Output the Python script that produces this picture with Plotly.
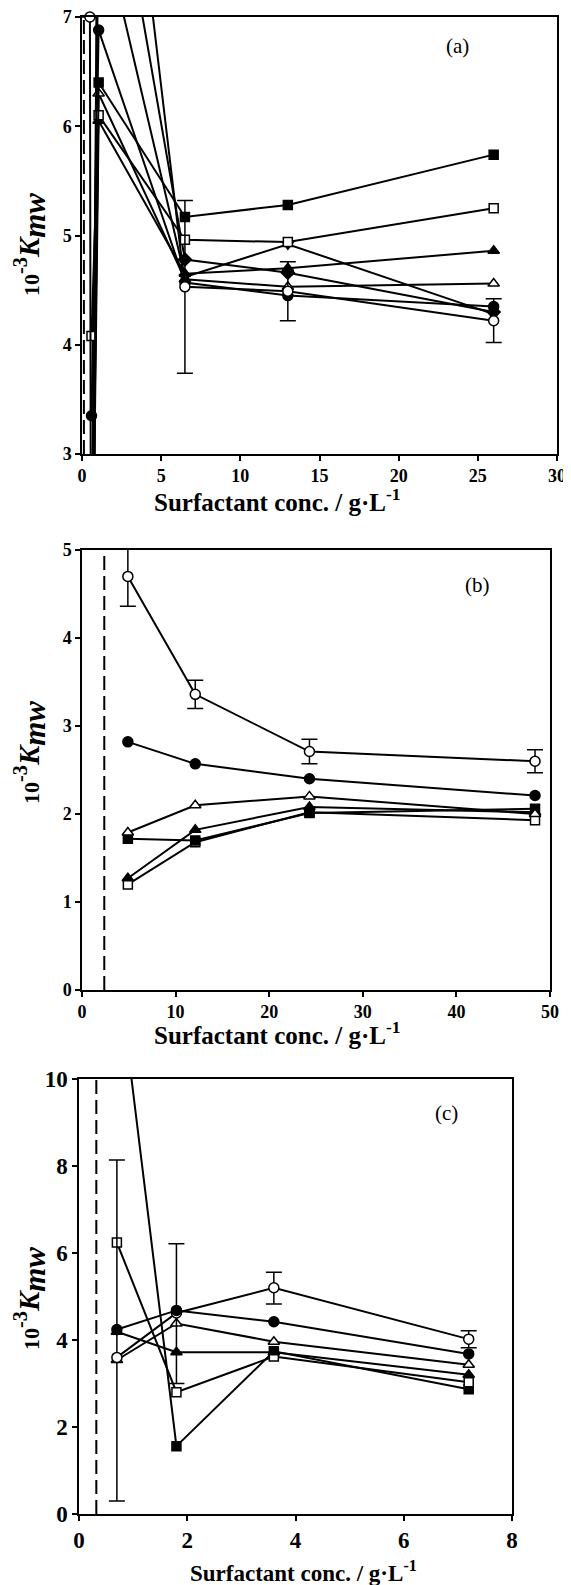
import plotly.graph_objects as go

# page body has an 8px default margin, so the figure is shifted by OFF
OFF = 8
W, H = 571 - OFF, 1585 - OFF

# ---------------- data ----------------
# panel (a)
a_x = [0.6, 1.05, 6.5, 13, 26]
a_x_open_circle = [0.5, 0.62, 1.05, 6.5, 13, 26]
a_filled_square = [1.0, 6.4, 5.17, 5.28, 5.74]
a_open_square = [4.08, 6.1, 4.96, 4.94, 5.25]
a_filled_circle = [3.35, 6.88, 4.57, 4.45, 4.35]
a_open_triangle = [1.5, 6.3, 4.60, 4.53, 4.56]
a_filled_triangle = [0.8, 6.05, 4.65, 4.70, 4.86]
a_filled_tridown = [2.0, 7.99, 4.62, 4.92, 4.28]
a_filled_diamond = [1.2, 9.3, 4.78, 4.66, 4.30]
a_open_circle = [7.0, -3.0, 11.2, 4.53, 4.49, 4.22]
a_open_circle_err = [None, None, None, 0.79, 0.27, 0.20]
a_cmc = 0.12

# panel (b)
b_x = [4.9, 12.1, 24.3, 48.4]
b_open_circle = [4.70, 3.36, 2.71, 2.60]
b_open_circle_err = [0.34, 0.16, 0.14, 0.13]
b_filled_circle = [2.82, 2.57, 2.40, 2.21]
b_open_triangle = [1.79, 2.10, 2.20, 2.00]
b_filled_square = [1.72, 1.70, 2.01, 2.06]
b_filled_triangle = [1.27, 1.82, 2.08, 2.02]
b_open_square = [1.20, 1.68, 2.02, 1.93]
b_cmc = 2.38

# panel (c)
c_x = [0.7, 1.8, 3.6, 7.2]
c_open_circle = [3.60, 4.62, 5.20, 4.02]
c_open_circle_err_plus = [4.54, 1.59, 0.36, 0.19]
c_open_circle_err_minus = [3.30, 1.62, 0.37, 0.20]
c_filled_circle = [4.24, 4.68, 4.42, 3.68]
c_open_triangle = [3.54, 4.38, 3.96, 3.43]
c_filled_triangle = [4.19, 3.72, 3.72, 3.20]
c_open_square = [6.24, 2.80, 3.62, 3.03]
c_filled_square = [12.75, 1.56, 3.74, 2.87]
c_cmc = 0.32

panel_labels = ["(a)", "(b)", "(c)"]
x_title = "Surfactant conc. / g·L<sup>-1</sup>"
y_title = ("<span style='font-size:22px'>10</span><sup>-3</sup>"
           "<i>K<sub><span style='font-size:31px'>mw</span></sub></i>")

# ---------------- styles ----------------
SYM = {
    "fs": ("square", "black", 9),
    "os": ("square", "white", 9),
    "fc": ("circle", "black", 10),
    "oc": ("circle", "white", 10),
    "ft": ("triangle-up", "black", 10),
    "ot": ("triangle-up", "white", 10),
    "fd": ("triangle-down", "black", 10),
    "fm": ("diamond", "black", 10),
}

fig = go.Figure()


def axname(ax):
    return ("x", "y") if ax == 1 else (f"x{ax}", f"y{ax}")


def add_series(xs, ys, kind, ax, yrange, err=None, err_minus=None):
    xa, ya = axname(ax)
    ekw = {}
    if err is not None:
        ekw["error_y"] = dict(
            type="data", array=err, symmetric=err_minus is None,
            arrayminus=err_minus, color="black", thickness=1.5, width=8,
        )
    fig.add_trace(go.Scatter(x=xs, y=ys, mode="lines", xaxis=xa, yaxis=ya,
                             line=dict(color="black", width=2),
                             showlegend=False, hoverinfo="skip", **ekw))
    vx = [x for x, y in zip(xs, ys) if yrange[0] <= y <= yrange[1]]
    vy = [y for y in ys if yrange[0] <= y <= yrange[1]]
    sym, fill, size = SYM[kind]
    fig.add_trace(go.Scatter(x=vx, y=vy, mode="markers", xaxis=xa, yaxis=ya,
                             cliponaxis=False,
                             marker=dict(symbol=sym, color=fill, size=size,
                                         line=dict(color="black", width=1.5)),
                             showlegend=False, hoverinfo="skip"))


ra, rb, rc = (3, 7), (0, 5), (0, 10)

# dashed CMC lines
for cmc, ax, rng in [(a_cmc, 1, ra), (b_cmc, 2, rb), (c_cmc, 3, rc)]:
    xa, ya = axname(ax)
    fig.add_trace(go.Scatter(x=[cmc, cmc], y=list(rng), mode="lines", xaxis=xa, yaxis=ya,
                             line=dict(color="black", width=2, dash="14px,6px"),
                             showlegend=False, hoverinfo="skip"))

# panel (a)
add_series(a_x, a_filled_diamond, "fm", 1, ra)
add_series(a_x, a_filled_tridown, "fd", 1, ra)
add_series(a_x, a_filled_triangle, "ft", 1, ra)
add_series(a_x, a_open_triangle, "ot", 1, ra)
add_series(a_x, a_filled_circle, "fc", 1, ra)
add_series(a_x, a_open_square, "os", 1, ra)
add_series(a_x, a_filled_square, "fs", 1, ra)
add_series(a_x_open_circle, a_open_circle, "oc", 1, ra, err=a_open_circle_err)

# panel (b)
add_series(b_x, b_open_square, "os", 2, rb)
add_series(b_x, b_filled_triangle, "ft", 2, rb)
add_series(b_x, b_filled_square, "fs", 2, rb)
add_series(b_x, b_open_triangle, "ot", 2, rb)
add_series(b_x, b_filled_circle, "fc", 2, rb)
add_series(b_x, b_open_circle, "oc", 2, rb, err=b_open_circle_err)

# panel (c)
add_series(c_x, c_filled_square, "fs", 3, rc)
add_series(c_x, c_open_square, "os", 3, rc)
add_series(c_x, c_filled_triangle, "ft", 3, rc)
add_series(c_x, c_open_triangle, "ot", 3, rc)
add_series(c_x, c_open_circle, "oc", 3, rc, err=c_open_circle_err_plus,
           err_minus=c_open_circle_err_minus)
add_series(c_x, c_filled_circle, "fc", 3, rc)


def px_x(p):
    return (p - OFF) / W


def px_y(p):
    return 1 - (p - OFF) / H


SERIF = "Liberation Serif"
tickfont_ab = dict(family=SERIF, size=18, color="black", weight="bold")
tickfont_c = dict(family=SERIF, size=23, color="black", weight="bold")

common = dict(showline=True, linecolor="black", linewidth=1.5, mirror=True,
              ticks="outside", ticklen=5, tickcolor="black", tickwidth=1.5,
              showgrid=False, zeroline=False, automargin=False,
              ticklabeloverflow="allow")

fig.update_layout(
    template="none",
    width=W, height=H, margin=dict(l=0, r=0, t=0, b=0, autoexpand=False),
    paper_bgcolor="white", plot_bgcolor="white",
    xaxis=dict(domain=[px_x(82), px_x(557)], range=[0, 30], dtick=5, anchor="y",
               tickfont=tickfont_ab, **common),
    yaxis=dict(domain=[px_y(454), px_y(17)], range=list(ra), dtick=1, anchor="x",
               tickfont=tickfont_ab, **common),
    xaxis2=dict(domain=[px_x(82), px_x(550)], range=[0, 50], dtick=10, anchor="y2",
                tickfont=tickfont_ab, **common),
    yaxis2=dict(domain=[px_y(990), px_y(550)], range=list(rb), dtick=1, anchor="x2",
                tickfont=tickfont_ab, **common),
    xaxis3=dict(domain=[px_x(79), px_x(512)], range=[0, 8], dtick=2, anchor="y3",
                tickfont=tickfont_c, **common),
    yaxis3=dict(domain=[px_y(1514), px_y(1079)], range=list(rc), dtick=2, anchor="x3",
                tickfont=tickfont_c, **common),
)

annos = []
# x titles
for cx, cy, fs in [(277, 500, 25), (277, 1033, 25), (303, 1571, 23)]:
    annos.append(dict(text=x_title, x=px_x(cx), y=px_y(cy), xref="paper", yref="paper",
                      xanchor="center", yanchor="middle", showarrow=False,
                      font=dict(family=SERIF, size=fs, color="black", weight="bold")))
# y titles
for cx, cy in [(30, 245), (30, 753), (30, 1299)]:
    annos.append(dict(text=y_title, x=px_x(cx), y=px_y(cy), xref="paper", yref="paper",
                      xanchor="center", yanchor="middle", showarrow=False, textangle=-90,
                      font=dict(family=SERIF, size=29, color="black", weight="bold")))
# panel labels
for lab, ax, lx, ly in [(panel_labels[0], 1, 23.7, 6.73), (panel_labels[1], 2, 42.3, 4.6),
                        (panel_labels[2], 3, 6.79, 9.21)]:
    xa, ya = axname(ax)
    annos.append(dict(text=lab, x=lx, y=ly, xref=xa, yref=ya, showarrow=False,
                      xanchor="center", yanchor="middle",
                      font=dict(family=SERIF, size=21, color="black")))
fig.update_layout(annotations=annos)

fig.write_html("out.html")
